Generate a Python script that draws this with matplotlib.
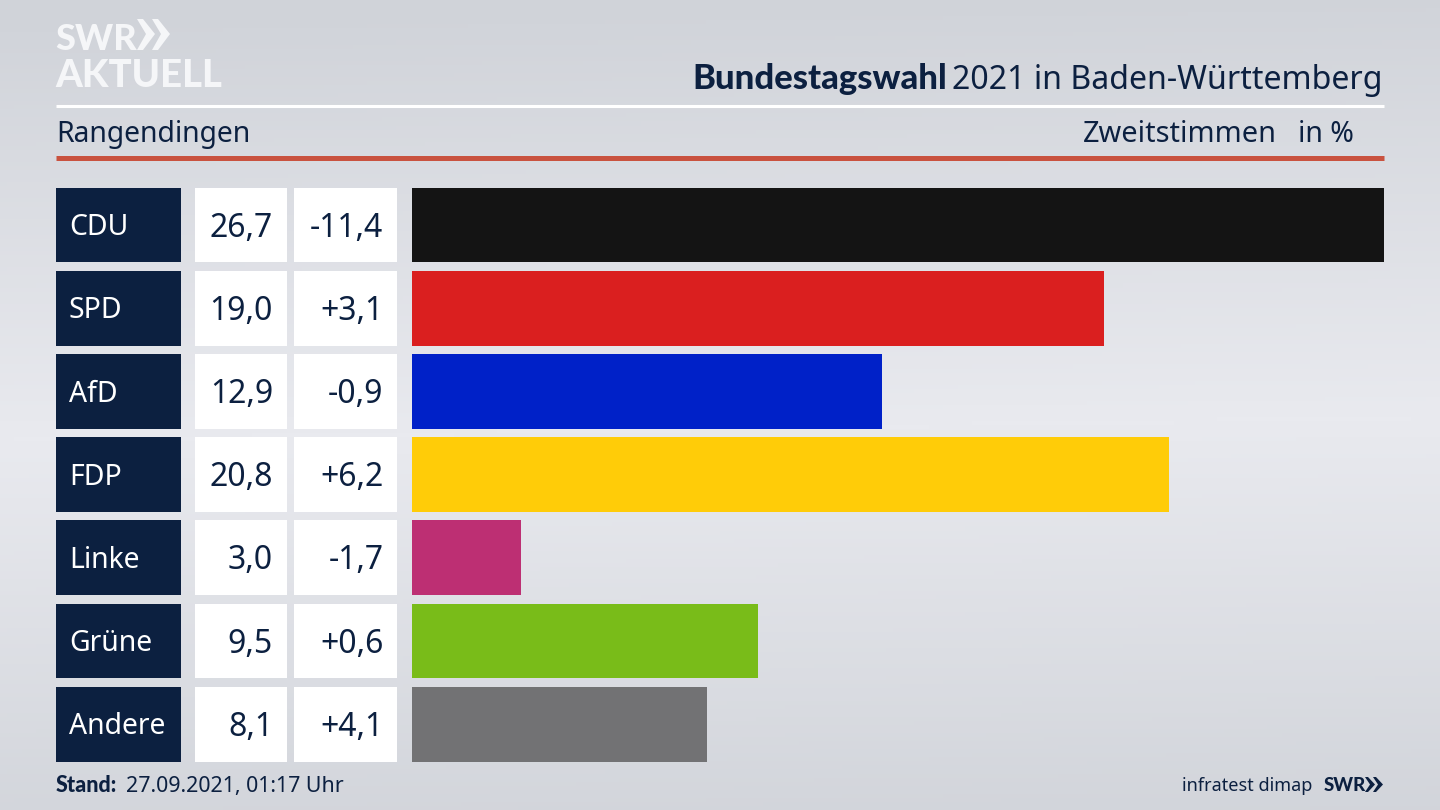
import numpy as np
import matplotlib.pyplot as plt
from matplotlib.colors import LinearSegmentedColormap
from matplotlib.patches import Polygon

parties = ['CDU', 'SPD', 'AfD', 'FDP', 'Linke', 'Grüne', 'Andere']
values = [26.7, 19.0, 12.9, 20.8, 3.0, 9.5, 8.1]
changes = ['-11,4', '+3,1', '-0,9', '+6,2', '-1,7', '+0,6', '+4,1']
colors = ['#141414', '#da1f1f', '#0021c8', '#ffcc08', '#bd2f73', '#79bc19', '#727274']

NAVY = '#0c2040'
LOGO = '#f5f6f8'
FONT = 'Noto Sans'
BOLD = 'Lato'
W, H = 1440, 810

plt.rcParams['font.family'] = [FONT, 'DejaVu Sans']


def px_axes(fig, left, top, right, bottom):
    return fig.add_axes([left / W, 1 - bottom / H, (right - left) / W, (bottom - top) / H])


fig = plt.figure(figsize=(14.4, 8.1), dpi=100)

# background + header, axes in pixel coordinates
bg = fig.add_axes([0, 0, 1, 1])
yy, xx = np.mgrid[0:1:200j, 0:1:200j]
grad = np.abs(yy - 0.53 + 0.03 * (xx - 0.5)) / 0.53
cmap = LinearSegmentedColormap.from_list('bg', ['#e9eaef', '#d0d3d9'])
bg.imshow(grad, extent=[0, W, H, 0], aspect='auto', cmap=cmap, vmin=0, vmax=1)
bg.set_xlim(0, W)
bg.set_ylim(H, 0)
bg.axis('off')

bg.plot([56, 1384], [105.5, 105.5], color='white', lw=2.2, solid_capstyle='butt')
bg.plot([56, 1384], [157.5, 157.5], color='#c9523f', lw=3.6, solid_capstyle='butt')

# logo
bg.text(55, 50, 'SWR', color=LOGO, fontsize=26, fontweight='black', family=BOLD, ha='left', va='baseline')
bg.text(55, 87, 'AKTUELL', color=LOGO, fontsize=27.5, fontweight='black', family=BOLD, ha='left', va='baseline')
for x0 in (137, 152):
    bg.add_patch(Polygon([(x0, 19), (x0 + 6, 19), (x0 + 18, 34), (x0 + 6, 50), (x0, 50), (x0 + 9, 34)], color=LOGO, lw=0))

# header text
bg.text(692, 89, 'Bundestagswahl', color=NAVY, fontsize=24.9, fontweight='black', family=BOLD, ha='left', va='baseline')
bg.text(1383, 89, '2021 in Baden-Württemberg', color=NAVY, fontsize=23.1, ha='right', va='baseline')
bg.text(56, 142, 'Rangendingen', color=NAVY, fontsize=20.4, ha='left', va='baseline')
bg.text(1277, 142, 'Zweitstimmen', color=NAVY, fontsize=20.8, ha='right', va='baseline')
bg.text(1354, 142, 'in %', color=NAVY, fontsize=20.5, ha='right', va='baseline')

# table cells
rows = np.arange(len(parties))
tab = px_axes(fig, 56, 187.5, 397.5, 761.7)
tab.patch.set_alpha(0)
tab.set_xlim(56, 397.5)
tab.set_ylim(6.45, -0.45)
tab.axis('off')
tab.barh(rows, 125, left=56, height=0.9, color=NAVY)
tab.barh(rows, 92, left=195, height=0.9, color='white')
tab.barh(rows, 103.5, left=294, height=0.9, color='white')
for i in rows:
    tab.text(69, i - 0.01, parties[i], color='white', fontsize=20.4, ha='left', va='center_baseline')
    tab.text(273, i - 0.01, f'{values[i]:.1f}'.replace('.', ','), color=NAVY, fontsize=23, ha='right', va='center_baseline')
    tab.text(383.5, i - 0.01, changes[i], color=NAVY, fontsize=23, ha='right', va='center_baseline')

# bars
ax = px_axes(fig, 412, 187.5, 1384, 761.7)
ax.patch.set_alpha(0)
ax.barh(rows, values, height=0.9, color=colors)
ax.set_xlim(0, max(values))
ax.set_ylim(6.45, -0.45)
ax.axis('off')

# footer
bg.text(56, 792, 'Stand:', color=NAVY, fontsize=15.5, fontweight='black', family=BOLD, ha='left', va='baseline')
bg.text(126, 792, '27.09.2021, 01:17 Uhr', color=NAVY, fontsize=15.4, ha='left', va='baseline')
bg.text(1312, 791, 'infratest dimap', color=NAVY, fontsize=13, ha='right', va='baseline')
bg.text(1324, 791, 'SWR', color=NAVY, fontsize=13.5, fontweight='black', family=BOLD, ha='left', va='baseline')
for x0 in (1365, 1373):
    bg.add_patch(Polygon([(x0, 777), (x0 + 3, 777), (x0 + 10, 784.5), (x0 + 3, 792), (x0, 792), (x0 + 5, 784.5)], color=NAVY, lw=0))

fig.savefig('out.png', dpi=100)
